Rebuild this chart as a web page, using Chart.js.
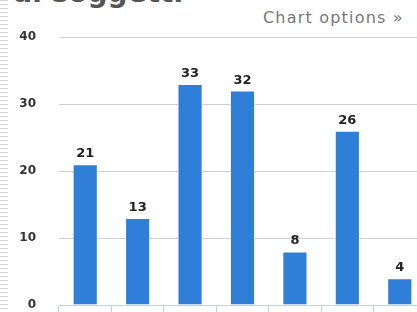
<!DOCTYPE html>
<html lang="it">
  <head>
    <meta charset="UTF-8" />
    <title>Numero di soggetti</title>
    <script src="https://cdn.jsdelivr.net/npm/chart.js"></script>
    <style>
      html, body { margin: 0; padding: 0; overflow: hidden; background: #fff; }
      body { width: 417px; height: 312px; position: relative; }
      #edge {
        position: absolute; left: 0; top: 0; width: 8px; height: 312px;
        background: repeating-linear-gradient(to bottom, #d6d6d6 0 1px, transparent 1px 4px);
      }
      #title {
        position: absolute; right: 234px; top: -24px; white-space: nowrap;
        font: bold 28px "DejaVu Sans", sans-serif; color: #555;
      }
      #options {
        position: absolute; left: 263px; top: 8px; letter-spacing: 1.2px;
        font: 16px "DejaVu Sans", sans-serif; color: #777;
      }
      #chart { position: absolute; left: 0; top: 0; }
    </style>
  </head>
  <body>
    <div id="edge"></div>
    <div id="title">Numero di soggetti</div>
    <div id="options">Chart options »</div>
    <canvas id="chart" width="432" height="312"></canvas>

    <script>
      const categories = ["1", "2", "3", "4", "5", "6", "7"];
      const values = [21, 13, 33, 32, 8, 26, 4];
      const yTicks = [0, 10, 20, 30, 40];

      // etichette sopra le barre
      const barLabels = {
        id: "barLabels",
        afterDatasetsDraw(chart) {
          const ctx = chart.ctx;
          ctx.save();
          ctx.font = "bold 13px 'DejaVu Sans', sans-serif";
          ctx.fillStyle = "#222";
          ctx.textAlign = "center";
          ctx.textBaseline = "alphabetic";
          chart.getDatasetMeta(0).data.forEach((bar, i) => {
            ctx.fillText(values[i], bar.x, bar.y - 7);
          });
          ctx.restore();
        },
      };

      new Chart(document.getElementById("chart"), {
        type: "bar",
        data: {
          labels: categories,
          datasets: [
            {
              data: values,
              backgroundColor: "#2f7ed8",
              borderColor: "rgba(255,255,255,0.5)",
              borderWidth: 1,
              barPercentage: 0.48,
              categoryPercentage: 1,
            },
          ],
        },
        options: {
          responsive: false,
          animation: false,
          layout: { padding: { top: 37, right: 6, left: 0, bottom: 0 } },
          plugins: { legend: { display: false }, tooltip: { enabled: false } },
          scales: {
            x: {
              offset: true,
              ticks: { display: false },
              grid: {
                offset: true,
                drawOnChartArea: false,
                drawTicks: true,
                tickLength: 10,
                color: "#c0d0e0",
              },
              border: { color: "#c0d0e0" },
              afterFit(scale) { scale.height = 7; },
            },
            y: {
              min: 0,
              max: 40,
              afterBuildTicks(scale) { scale.ticks = yTicks.map((v) => ({ value: v })); },
              ticks: {
                padding: 23,
                color: "#333",
                font: { family: "DejaVu Sans", size: 12, weight: "bold" },
              },
              grid: { color: "#d0d0d0", drawTicks: false },
              border: { display: false },
              afterFit(scale) {
                scale.width = 59;
                scale.paddingTop = 0;
                scale.paddingBottom = 0;
              },
            },
          },
        },
        plugins: [barLabels],
      });
    </script>
  </body>
</html>
